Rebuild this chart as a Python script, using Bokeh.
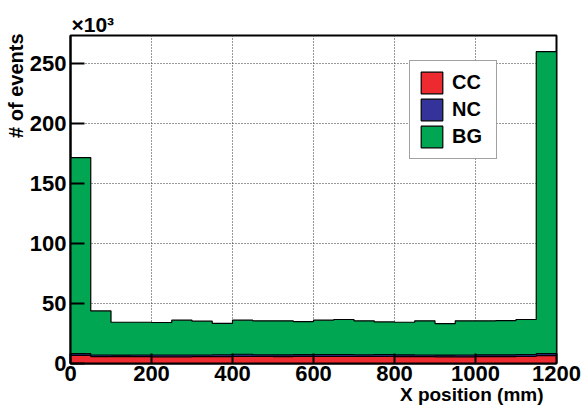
import numpy as np
from bokeh.plotting import figure
from bokeh.models import (Title, Legend, LegendItem, FixedTicker, Range1d,
                          CustomJSTickFormatter)
from bokeh.embed import file_html
from bokeh.resources import INLINE

# ---------------- data ----------------
bin_lo = [0, 50, 100, 150, 200, 250, 300, 350, 400, 450, 500, 550,
          600, 650, 700, 750, 800, 850, 900, 950, 1000, 1050, 1100, 1150]
bin_width = 50

cc_events = [6700, 5800, 5700, 5700, 5600, 5600, 5700, 5800, 6000, 5900, 5800, 5900,
             5900, 6000, 5900, 6000, 5800, 5800, 5600, 5600, 5700, 5800, 6000, 6500]
nc_events = [1600, 1300, 1300, 1400, 1500, 1500, 1400, 1500, 1700, 1400, 1400, 1500,
             1600, 1500, 1400, 1500, 1400, 1300, 1400, 1500, 1500, 1400, 1500, 1800]
bg_events = [163400, 36700, 27400, 27300, 27100, 29000, 28200, 26100, 28400, 28300, 28400, 27600,
             28600, 29200, 28300, 27200, 27200, 28500, 26300, 28500, 28400, 28600, 29200, 251700]

x_ticks = [0, 200, 400, 600, 800, 1000, 1200]
y_ticks = [0, 50000, 100000, 150000, 200000, 250000]

series_names = ["CC", "NC", "BG"]
colors = {"CC": "#ED2A2F", "NC": "#333399", "BG": "#00A651"}

# ---------------- helpers ----------------
def step_patch(lo, width, vals):
    xs = [lo[0]]
    ys = [0]
    for l, v in zip(lo, vals):
        xs += [l, l + width]
        ys += [v, v]
    xs.append(lo[-1] + width)
    ys.append(0)
    return xs, ys

cc = np.array(cc_events, dtype=float)
nc = np.array(nc_events, dtype=float)
bg = np.array(bg_events, dtype=float)
cum_cc = cc
cum_nc = cc + nc
cum_bg = cc + nc + bg

FONT = "Liberation Sans"

p = figure(width=582, height=411, output_backend="svg", toolbar_location=None,
           x_range=Range1d(0, 1200), y_range=Range1d(0, 273500),
           min_border_left=70, min_border_right=26, min_border_top=35,
           min_border_bottom=48)
p.background_fill_color = "white"
p.border_fill_color = "white"
p.outline_line_color = "black"
p.outline_line_width = 2

# grid
p.xgrid.ticker = FixedTicker(ticks=x_ticks)
p.ygrid.ticker = FixedTicker(ticks=y_ticks)
for g in (p.xgrid, p.ygrid):
    g.grid_line_color = "#333333"
    g.grid_line_dash = "1 2"
    g.grid_line_width = 1

# histograms (each drawn from 0, stacked cumulative as in THStack)
renderers = {}
for name, cum in (("BG", cum_bg), ("NC", cum_nc), ("CC", cum_cc)):
    xs, ys = step_patch(bin_lo, bin_width, cum)
    renderers[name] = p.patch(xs, ys, fill_color=colors[name], line_color="black",
                              line_width=1.2)

# axes
p.xaxis.ticker = FixedTicker(ticks=x_ticks)
p.yaxis.ticker = FixedTicker(ticks=y_ticks)
p.yaxis.formatter = CustomJSTickFormatter(code="return (tick/1000).toFixed(0);")
for ax in (p.xaxis, p.yaxis):
    ax.axis_line_color = "black"
    ax.axis_line_width = 2
    ax.major_tick_line_color = "black"
    ax.major_tick_line_width = 2
    ax.major_tick_out = 0
    ax.minor_tick_in = 0
    ax.minor_tick_out = 0
    ax.major_label_text_font = FONT
    ax.major_label_text_font_style = "bold"
    ax.major_label_text_font_size = "22px"
    ax.major_label_text_color = "black"
p.xaxis.major_tick_in = 10
p.yaxis.major_tick_in = 14
p.xaxis.major_label_standoff = 2
p.yaxis.major_label_standoff = 4

# titles
p.add_layout(Title(text="X position (mm)", align="right", offset=13,
                   vertical_align="top", standoff=0,
                   text_font=FONT, text_font_style="bold",
                   text_font_size="19px", text_color="black"), "below")
p.add_layout(Title(text="# of events", align="right", offset=-2,
                   vertical_align="bottom", standoff=0,
                   text_font=FONT, text_font_style="bold",
                   text_font_size="20px", text_color="black"), "left")
p.add_layout(Title(text="\u00d710\u00b3", align="left", offset=1,
                   vertical_align="bottom", standoff=0,
                   text_font=FONT, text_font_style="bold",
                   text_font_size="21px", text_color="black"), "above")

# legend
legend = Legend(items=[LegendItem(label=n, renderers=[renderers[n]]) for n in series_names],
                location=(339, 204), orientation="vertical",
                glyph_width=27, glyph_height=27, label_height=27, label_width=36,
                label_standoff=7, spacing=0, padding=8, margin=0,
                label_text_font=FONT, label_text_font_style="bold",
                label_text_font_size="20px", label_text_color="black",
                label_text_baseline="middle",
                border_line_color="#444444", border_line_width=1.5,
                background_fill_color="white", background_fill_alpha=1.0)
p.add_layout(legend, "center")

open("out.html", "w").write(file_html(p, INLINE))
